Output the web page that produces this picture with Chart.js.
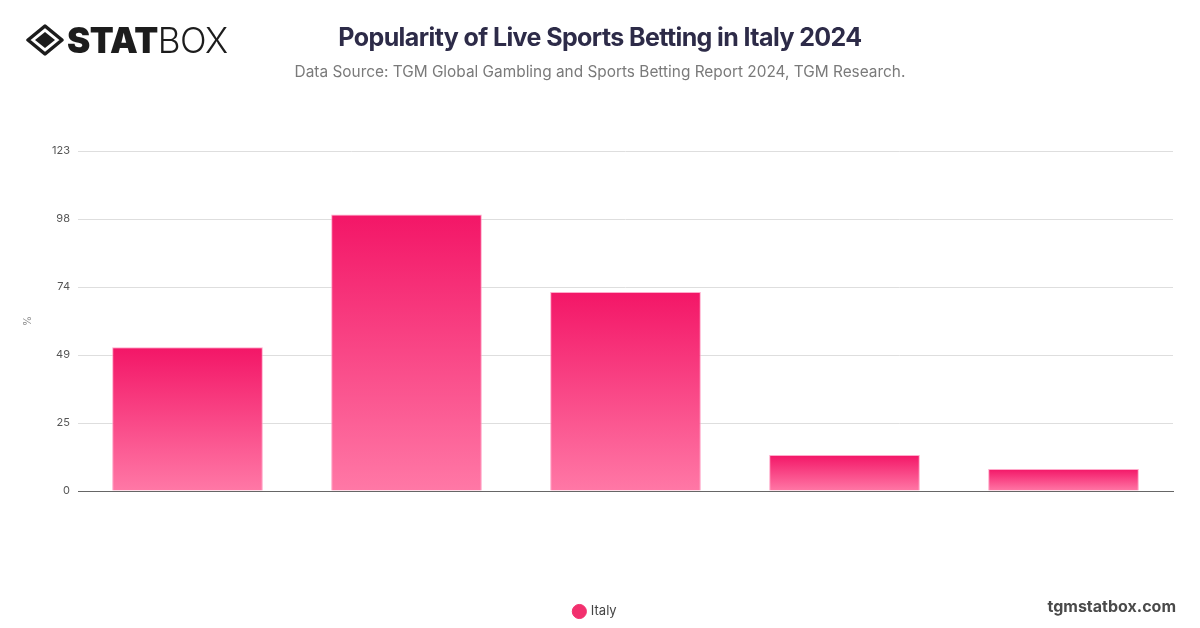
<!DOCTYPE html>
<html>
<head>
<meta charset="utf-8">
<script src="https://cdn.jsdelivr.net/npm/chart.js@4.4.1/dist/chart.umd.min.js"></script>
<style>
  html, body { margin: 0; padding: 0; background: #fff; }
  body { width: 1200px; height: 628px; position: relative; overflow: hidden; font-family: Inter, "Noto Sans", sans-serif; }
  #wrap { position: absolute; left: 0; top: 0; width: 1200px; height: 628px; }
  .logo { position: absolute; left: 26px; top: 22px; display: flex; align-items: center; }
  .logo span { font-size: 35px; line-height: 36px; color: #1c1c1c; letter-spacing: -0.5px; }
  .logo .b { font-weight: 900; margin-left: 3px; }
  .logo .l { font-weight: 300; }
  .title { position: absolute; top: 22px; left: 0; width: 1200px; text-align: center; font-size: 25px; font-weight: 700; color: #2d2b48; letter-spacing: -0.6px; }
  .subtitle { position: absolute; top: 62px; left: 0; width: 1200px; text-align: center; font-size: 15.4px; color: #7a7a7a; }
  .site { position: absolute; right: 24px; top: 596px; font-size: 16px; font-weight: 700; color: #4a4a4a; }
</style>
</head>
<body>
<div id="wrap"><canvas id="chart" width="1200" height="628"></canvas></div>
<div class="logo">
  <svg width="38" height="32" viewBox="0 0 38 32">
    <path d="M19 2 L36 16 L19 30 L2 16 Z" fill="none" stroke="#1c1c1c" stroke-width="3.5" stroke-linejoin="round"/>
    <path d="M19 8 L29 16 L19 24 L9 16 Z" fill="#1c1c1c"/>
  </svg>
  <span class="b">STAT</span><span class="l">BOX</span>
</div>
<div class="title">Popularity of Live Sports Betting in Italy 2024</div>
<div class="subtitle">Data Source: TGM Global Gambling and Sports Betting Report 2024, TGM Research.</div>
<div class="site">tgmstatbox.com</div>
<script>
// categories are not labelled in the picture
const categories = ['1', '2', '3', '4', '5'];
const seriesName = 'Italy';
const italyValues = [52, 100, 72, 13, 8];
const yMin = 0;
const yMax = 123;

function barGradient(context) {
    const chart = context.chart;
    if (!chart.chartArea || context.raw === undefined) return '#f2306e';
    const y = chart.scales.y;
    const top = y.getPixelForValue(context.raw);
    const bottom = y.getPixelForValue(0);
    const g = chart.ctx.createLinearGradient(0, top, 0, bottom);
    g.addColorStop(0, '#f31667');
    g.addColorStop(1, '#ff78a6');
    return g;
}

const ctx = document.getElementById('chart').getContext('2d');
const chart = new Chart(ctx, {
    type: 'bar',
    data: {
        labels: categories,
        datasets: [{
            label: seriesName,
            data: italyValues,
            backgroundColor: barGradient,
            borderColor: 'rgba(255, 150, 190, 0.8)',
            borderWidth: 1,
            barPercentage: 0.86,
            categoryPercentage: 0.8
        }]
    },
    options: {
        responsive: false,
        animation: false,
        layout: { padding: { left: 18, right: 27, top: 151, bottom: 0 } },
        plugins: {
            tooltip: { enabled: false },
            legend: {
                position: 'bottom',
                labels: {
                    usePointStyle: true,
                    pointStyle: 'circle',
                    boxHeight: 10,
                    boxWidth: 10,
                    padding: 10,
                    color: '#444',
                    font: { size: 13, family: 'Inter, "Noto Sans", sans-serif' },
                    generateLabels: function (c) {
                        const items = Chart.defaults.plugins.legend.labels.generateLabels(c);
                        items.forEach(function (it) {
                            it.fillStyle = '#f2306e';
                            it.strokeStyle = '#f2306e';
                        });
                        return items;
                    }
                }
            }
        },
        scales: {
            x: {
                grid: { display: false },
                ticks: { display: false },
                border: { display: true, color: '#666', width: 1 },
                afterFit: function (scale) { scale.height = 104; }
            },
            y: {
                min: yMin,
                max: yMax,
                ticks: {
                    count: 6,
                    padding: 8,
                    color: '#555',
                    font: { size: 11, family: 'Inter, "Noto Sans", sans-serif' },
                    callback: function (v) { return Math.round(v); }
                },
                grid: { color: '#dedede', drawTicks: false },
                border: { display: false },
                title: {
                    display: true,
                    text: '%',
                    color: '#888',
                    font: { size: 10, family: 'Inter, "Noto Sans", sans-serif' }
                },
                afterFit: function (scale) { scale.width = 60; }
            }
        }
    }
});
</script>
</body>
</html>
